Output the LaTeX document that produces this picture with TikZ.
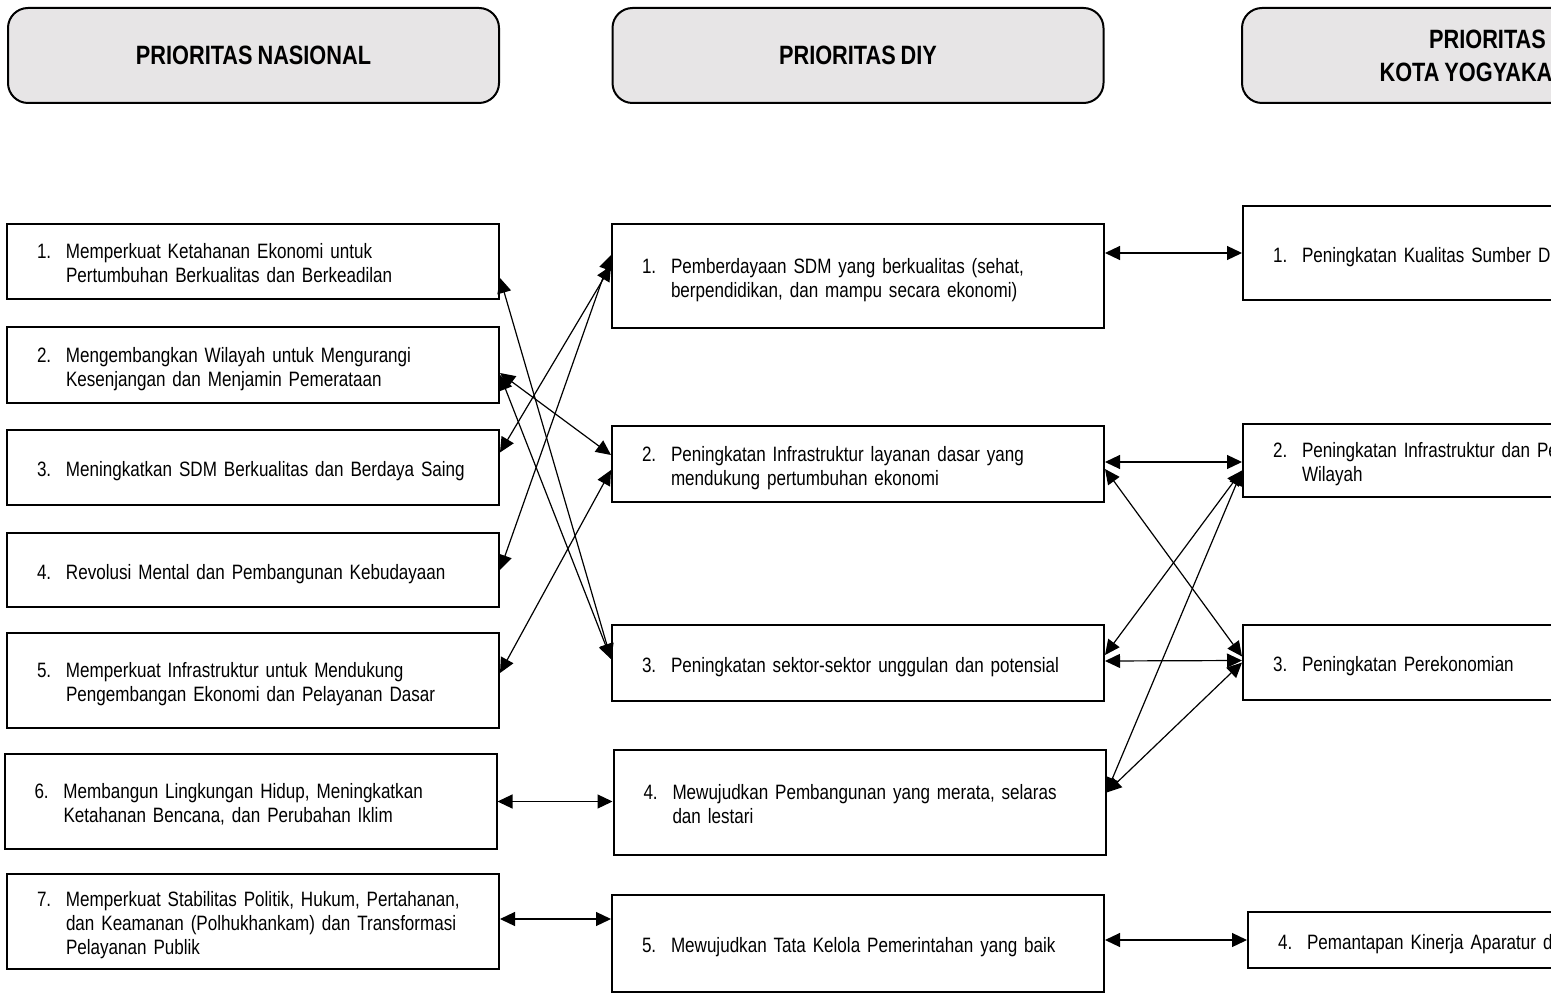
\documentclass[tikz,border=0pt]{standalone}
\usepackage{fontspec}
\setmainfont{Liberation Sans}[FakeStretch=0.82, WordSpace=0.82]
\usetikzlibrary{arrows.meta,calc}

\definecolor{headgray}{RGB}{231,229,230}
\newcommand{\judulfont}{\bfseries\fontsize{13.25pt}{16.5pt}\selectfont}
\newcommand{\isifont}{\fontsize{10.4pt}{12pt}\selectfont}
\newcommand{\butir}[2]{\raisebox{-2.2pt}[\height][\depth]{\makebox[14.5pt][l]{#1}\begin{tabular}[t]{@{}l@{}}#2\end{tabular}}}

\begin{document}
\begin{tikzpicture}[x=0.5pt, y=-0.5pt, >={Triangle[length=7.5pt,width=7pt]},
  header/.style={draw, line width=1pt, rounded corners=10pt, fill=headgray,
    minimum width=245.5pt, minimum height=47.5pt, align=center, font=\judulfont},
  itembox/.style={draw, line width=1pt, minimum width=246pt, text width=216pt,
    inner xsep=15pt, align=left, font=\isifont, minimum height=#1},
  itembox/.default=37.5pt,
  link/.style={<->, line width=0.6pt}]

    \useasboundingbox (0,0) rectangle (1551,994);
    \clip (0,0) rectangle (1551,994);

    % judul kolom
    \node[header] (hnas) at (253.5,55.5) {PRIORITAS NASIONAL};
    \node[header] (hdiy) at (858,55.5) {PRIORITAS DIY};
    \node[header] (hkota) at (1487.5,55.5) {PRIORITAS\\KOTA YOGYAKARTA};

    % prioritas nasional
    \node[itembox] (nas1) at (253,261.5) {\butir{1.}{Memperkuat Ketahanan Ekonomi untuk\\Pertumbuhan Berkualitas dan Berkeadilan}};
    \node[itembox=38pt] (nas2) at (253,365) {\butir{2.}{Mengembangkan Wilayah untuk Mengurangi\\Kesenjangan dan Menjamin Pemerataan}};
    \node[itembox] (nas3) at (253,467.5) {\butir{3.}{Meningkatkan SDM Berkualitas dan Berdaya Saing}};
    \node[itembox=37pt] (nas4) at (253,570) {\butir{4.}{Revolusi Mental dan Pembangunan Kebudayaan}};
    \node[itembox=47.5pt] (nas5) at (253,680.5) {\butir{5.}{Memperkuat Infrastruktur untuk Mendukung\\Pengembangan Ekonomi dan Pelayanan Dasar}};
    \node[itembox=47.5pt] (nas6) at (250.5,801.5) {\butir{6.}{Membangun Lingkungan Hidup, Meningkatkan\\Ketahanan Bencana, dan Perubahan Iklim}};
    \node[itembox=47.5pt] (nas7) at (253,921.5) {\butir{7.}{Memperkuat Stabilitas Politik, Hukum, Pertahanan,\\dan Keamanan (Polhukhankam) dan Transformasi\\Pelayanan Publik}};

    % prioritas DIY
    \node[itembox=52pt] (diy1) at (858,276) {\butir{1.}{Pemberdayaan SDM yang berkualitas (sehat,\\berpendidikan, dan mampu secara ekonomi)}};
    \node[itembox=38pt] (diy2) at (858,464) {\butir{2.}{Peningkatan Infrastruktur layanan dasar yang\\mendukung pertumbuhan ekonomi}};
    \node[itembox=38pt] (diy3) at (858,663) {\butir{3.}{Peningkatan sektor-sektor unggulan dan potensial}};
    \node[itembox=52.5pt] (diy4) at (859.5,802.5) {\butir{4.}{Mewujudkan Pembangunan yang merata, selaras\\dan lestari}};
    \node[itembox=48.5pt] (diy5) at (858,943.5) {\butir{5.}{Mewujudkan Tata Kelola Pemerintahan yang baik}};

    % prioritas kota
    \node[itembox=47pt] (kota1) at (1489,253) {\butir{1.}{Peningkatan Kualitas Sumber Da}};
    \node[itembox=36.5pt] (kota2) at (1489,460.5) {\butir{2.}{Peningkatan Infrastruktur dan Pe\\Wilayah}};
    \node[itembox] (kota3) at (1489,662.5) {\butir{3.}{Peningkatan Perekonomian}};
    \node[itembox=28pt] (kota4) at (1494,940) {\butir{4.}{Pemantapan Kinerja Aparatur d}};

    % nasional - DIY
    \draw[link] ($(nas1.east)+(0,16.5)$) -- ($(diy3.west)+(0,-4)$);
    \draw[link] ($(nas2.east)+(0,8)$) -- ($(diy2.west)+(0,-9)$);
    \draw[link] ($(nas2.east)+(0,10)$) -- ($(diy3.west)+(0,-4)$);
    \draw[link] ($(nas3.east)+(0,-15)$) -- ($(diy1.west)+(0,-10)$);
    \draw[link] (nas4.east) -- ($(diy1.west)+(0,-21)$);
    \draw[link] ($(nas5.east)+(0,-7.5)$) -- ($(diy2.west)+(0,6)$);
    \draw[link] (nas6.east) -- (nas6.east -| diy4.west);
    \draw[link] ($(nas7.east)+(0,-2.5)$) -- ($(nas7.east -| diy5.west)+(0,-2.5)$);

    % DIY - kota
    \draw[link] (kota1.west -| diy1.east) -- (kota1.west);
    \draw[link] ($(diy2.east)+(0,-2)$) -- ($(kota2.west)+(0,1.5)$);
    \draw[link] ($(diy2.east)+(0,5)$) -- ($(kota3.west)+(0,-6)$);
    \draw[link] ($(diy3.east)+(0,-2)$) -- ($(kota3.west)+(0,-2)$);
    \draw[link] ($(kota2.west)+(0,10)$) -- ($(diy3.east)+(0,-8)$);
    \draw[link] ($(kota2.west)+(0,10)$) -- ($(diy4.east)+(0,-10)$);
    \draw[link] (kota3.west) -- ($(diy4.east)+(0,-10)$);
    \draw[link] (kota4.west -| diy5.east) -- (kota4.west);

\end{tikzpicture}
\end{document}
